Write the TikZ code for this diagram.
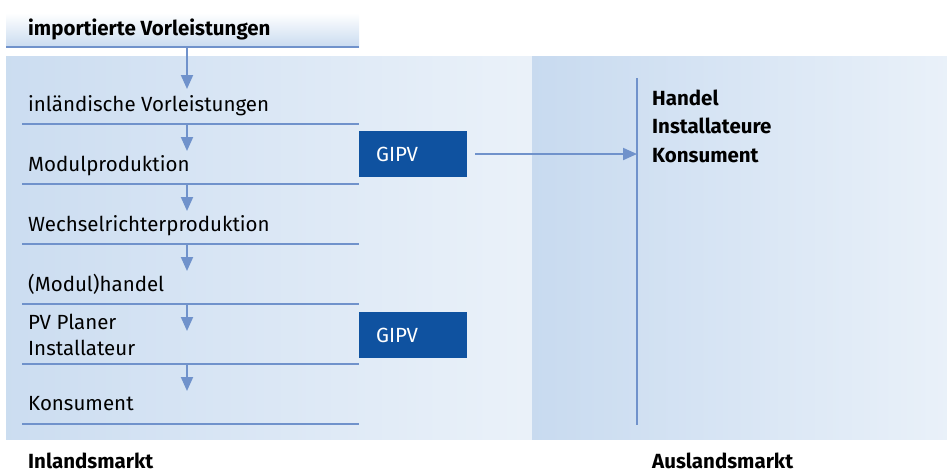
\documentclass[tikz,border=0pt]{standalone}
\usepackage{fontspec}
\setmainfont{Fira Sans}
\usetikzlibrary{arrows.meta}
\definecolor{panelblue}{HTML}{C3D7EE}
\definecolor{panelwhite}{HTML}{FAFCFE}
\definecolor{flowline}{HTML}{7092CB}
\definecolor{gipvblue}{HTML}{0F52A0}
\pgfdeclarehorizontalshading{inland}{100bp}{color(0bp)=(panelblue); color(25bp)=(panelblue!85!panelwhite); color(100bp)=(panelwhite)}
\pgfdeclarehorizontalshading{ausland}{100bp}{color(0bp)=(panelblue); color(18bp)=(panelblue); color(100bp)=(panelwhite)}
\tikzset{
  stage/.style={anchor=base west, inner sep=0pt, font=\fontsize{20.5}{24}\selectfont, text=black},
  heading/.style={stage, font=\fontsize{20.5}{24}\selectfont\bfseries},
  sepline/.style={draw=flowline, line width=2.2pt},
  flow/.style={draw=flowline, line width=2pt, -{Triangle[length=14pt,width=12pt]}},
  gipvbox/.style={fill=gipvblue, text=white, minimum width=108pt, minimum height=46pt,
    inner sep=0pt, anchor=north west, font=\fontsize{20.5}{24}\selectfont, align=left,
    text width=108pt},
}
\begin{document}
\begin{tikzpicture}[x=1pt,y=-1pt]
\useasboundingbox (0,0) rectangle (947,472);
% background panels
\shade[shading=inland] (6,56) rectangle (532,439);
\shade[shading=ausland] (532,56) rectangle (947,439);
\shade[top color=white, bottom color=panelblue!90] (6,13) rectangle (359,47);
% separating lines
\coordinate (l0) at (187,47);
\draw[sepline] (6,47) -- (359,47);
\foreach \y/\n in {124/1,184/2,244/3,304/4,364/5,424/6}{
  \draw[sepline] (22,\y) -- (359,\y);
  \coordinate (l\n) at (187,\y);
}
% stage labels
\node[heading] (imp) at (28,35) {importierte Vorleistungen};
\node[stage] (s1) at (28,111) {inländische Vorleistungen};
\node[stage] (s2) at (28,171) {Modulproduktion};
\node[stage] (s3) at (28,231) {Wechselrichterproduktion};
\node[stage] (s4) at (28,291) {(Modul)handel};
\node[stage] (s5a) at (28,329) {PV Planer};
\node[stage] (s5b) at (28,355) {Installateur};
\node[stage] (s6) at (28,410) {Konsument};
% downward arrows (tips)
\coordinate (t1) at (187,89);
\coordinate (t2) at (187,151);
\coordinate (t3) at (187,211);
\coordinate (t4) at (187,271);
\coordinate (t5) at (187,331);
\coordinate (t6) at (187,391);
\draw[flow] (l0) -- (t1);
\foreach \n/\m in {1/2,2/3,3/4,4/5,5/6}{
  \draw[flow] (l\n) -- (t\m);
}
% GIPV boxes
\node[gipvbox] (g1) at (359,131) {\hspace*{17pt}GIPV};
\node[gipvbox] (g2) at (359,312) {\hspace*{17pt}GIPV};
% foreign market
\coordinate (vtop) at (637,78);
\coordinate (vbot) at (637,425);
\draw[draw=flowline, line width=2.2pt] (vtop) -- (vbot);
\coordinate (gstart) at (475,154);
\draw[flow] (gstart) -- (vtop |- gstart);
\node[heading] (h1) at (652,105) {Handel};
\node[heading] (h2) at (652,133) {Installateure};
\node[heading] (h3) at (652,162) {Konsument};
% market captions
\node[heading] (inl) at (28,468) {Inlandsmarkt};
\node[heading] (aus) at (652,468) {Auslandsmarkt};
\end{tikzpicture}
\end{document}
